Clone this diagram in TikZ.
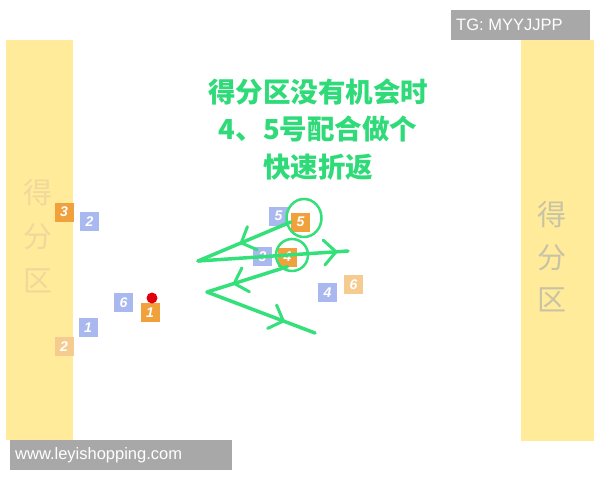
\documentclass[tikz,border=0pt]{standalone}
\usepackage{fontspec}
\setmainfont{Liberation Sans}
\newfontfamily\cjk{Noto Sans CJK SC}
\usetikzlibrary{arrows.meta,decorations.markings,shapes.geometric}
\definecolor{zoneyellow}{HTML}{FFEB99}
\definecolor{zonetextL}{HTML}{F0D89C}
\definecolor{zonetextR}{HTML}{C9C3A6}
\definecolor{porange}{HTML}{F0A13C}
\definecolor{plorange}{HTML}{F6CB8F}
\definecolor{pblue}{HTML}{A9B8EE}
\definecolor{pgreen}{HTML}{33E07A}
\definecolor{tgreen}{HTML}{2EDB78}
\definecolor{pred}{HTML}{E00010}
\definecolor{boxgray}{HTML}{A8A8A8}
\tikzset{
  zonebar/.style={fill=zoneyellow, draw=none, inner sep=0, anchor=north west},
  zonelbl/.style={font=\cjk\fontsize{29}{29}\selectfont, inner sep=0},
  player/.style={minimum size=19pt, inner sep=0, text=white, font=\fontsize{14}{14}\selectfont\itshape\bfseries},
  orangep/.style={player, fill=porange},
  lorangep/.style={player, fill=plorange},
  bluep/.style={player, fill=pblue},
  graybox/.style={fill=boxgray, text=white, inner sep=0, anchor=north west, font=\fontsize{16.5}{16.5}\selectfont},
  titletxt/.style={text=tgreen, font=\cjk\bfseries\fontsize{27.5}{27.5}\selectfont, inner sep=0},
  ring/.style={draw=pgreen, line width=2.5pt, circle, inner sep=0},
  run/.style={draw=pgreen, line width=3.5pt, line cap=round},
  runmark/.style={postaction={decorate, decoration={markings, mark=at position #1 with {\arrow[pgreen, line width=3pt]{Straight Barb[length=12pt, width=25pt, round]}}}}}
}
\begin{document}
\begin{tikzpicture}[x=1pt,y=-1pt]
\useasboundingbox (0,0) rectangle (600,480);
\fill[white] (0,0) rectangle (600,480);
% scoring zones
\node[zonebar, minimum width=67pt, minimum height=400pt] (zoneL) at (6,40) {};
\node[zonebar, minimum width=73pt, minimum height=401pt] (zoneR) at (521,40) {};
\node[zonelbl, text=zonetextL] (zl1) at (38,193) {得};
\node[zonelbl, text=zonetextL] (zl2) at (38,237) {分};
\node[zonelbl, text=zonetextL] (zl3) at (38,281) {区};
\node[zonelbl, text=zonetextR] (zr1) at (552,215) {得};
\node[zonelbl, text=zonetextR] (zr2) at (552,258) {分};
\node[zonelbl, text=zonetextR] (zr3) at (552,300) {区};
% watermark boxes
\node[graybox, minimum width=139pt, minimum height=30pt] (tg) at (451,10) {};
\node[text=white, font=\fontsize{16.5}{16.5}\selectfont, anchor=west, inner sep=0] (tgt) at (456,25) {TG: MYYJJPP};
\node[graybox, minimum width=222pt, minimum height=30pt] (www) at (10,440) {};
\node[text=white, font=\fontsize{16.5}{16.5}\selectfont, anchor=west, inner sep=0] (wwwt) at (15,455) {www.leyishopping.com};
% title
\node[titletxt] (t1) at (318,92) {得分区没有机会时};
\node[titletxt] (t2) at (318,129) {4、5号配合做个};
\node[titletxt] (t3) at (318,167) {快速折返};
% players
\node[bluep] (b2) at (89.5,221.5) {2};
\node[bluep] (b6) at (123.5,302.5) {6};
\node[bluep] (b1) at (88,327.5) {1};
\node[bluep] (b5) at (278.5,216) {5};
\node[bluep] (b3) at (262.5,256.5) {3};
\node[bluep] (b4) at (327.5,292.5) {4};
\node[orangep] (o3) at (64,212) {3};
\node[orangep] (o1) at (150,312.5) {1};
\node[lorangep] (o2) at (64,346.5) {2};
\node[orangep] (o5) at (300.5,222) {5};
\node[orangep] (o4) at (287.5,257) {4};
\node[lorangep] (o6) at (353.5,284.5) {6};
\fill[pred] (152,298) circle (5.5pt);
% rings
\node[ring, minimum width=35pt, minimum height=38pt, ellipse] (r5) at (304,218) {};
\node[ring, minimum size=32pt] (r4) at (292,255) {};
% runs
\coordinate (ta) at (198,261);
\coordinate (tb) at (348,251);
\coordinate (tc) at (207,292);
\coordinate (td) at (315,333);
\draw[run, runmark=0.55] (o5.west) -- (ta);
\draw[run, runmark=0.93] (ta) -- (tb);
\draw[run, runmark=0.68] (o4.south) -- (tc);
\draw[run, runmark=0.72] (tc) -- (td);
\end{tikzpicture}
\end{document}
